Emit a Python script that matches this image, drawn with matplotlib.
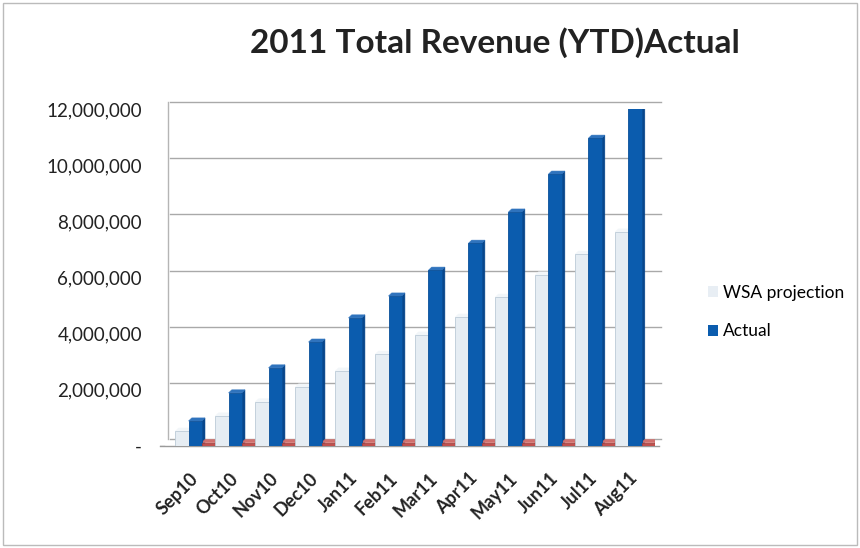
import numpy as np
import matplotlib.pyplot as plt
from matplotlib.patches import Polygon, Rectangle
from matplotlib.transforms import ScaledTranslation
from matplotlib.ticker import FuncFormatter

months = ['Sep10', 'Oct10', 'Nov10', 'Dec10', 'Jan11', 'Feb11',
          'Mar11', 'Apr11', 'May11', 'Jun11', 'Jul11', 'Aug11']
projection = [530000, 1070000, 1570000, 2100000, 2670000, 3270000,
              3950000, 4590000, 5300000, 6090000, 6830000, 7620000]
actual = [890000, 1890000, 2780000, 3700000, 4560000, 5340000,
          6260000, 7220000, 8330000, 9680000, 10960000, 12060000]
variance = [120000, 120000, 120000, 120000, 120000, 120000,
            120000, 120000, 120000, 120000, 120000, 120000]
yticks = [0, 2000000, 4000000, 6000000, 8000000, 10000000, 12000000]

plt.rcParams['font.family'] = ['Lato', 'DejaVu Sans']

fig = plt.figure(figsize=(8.6, 5.48), dpi=100)
ax = fig.add_axes([160 / 860, 102 / 548, 495 / 860, 337 / 548])
ax.set_xlim(-0.88, 11.5)
ax.set_ylim(0, 12000000)

x = np.arange(len(months))
w = 0.33
# depth of the pseudo-3D columns, in data units
dx, dy = 0.08, 110000


def column(ax, xc, h, face, side, top, edge):
    ax.add_patch(Rectangle((xc - w / 2, 0), w, h, facecolor=face,
                           edgecolor=edge, linewidth=0.6, zorder=3))
    ax.add_patch(Polygon([(xc + w / 2, 0), (xc + w / 2 + dx, dy),
                          (xc + w / 2 + dx, h + dy), (xc + w / 2, h)],
                         facecolor=side, edgecolor=side, linewidth=0.4, zorder=2.9))
    ax.add_patch(Polygon([(xc - w / 2, h), (xc - w / 2 + dx, h + dy),
                          (xc + w / 2 + dx, h + dy), (xc + w / 2, h)],
                         facecolor=top, edgecolor=top, linewidth=0.4, zorder=2.9))


# back wall gridlines sit slightly above/behind the column fronts
back = ax.transData + ScaledTranslation(4 / 72, 5 / 72, fig.dpi_scale_trans)
for t in yticks:
    ax.plot([-0.78, 11.5], [t, t], color='#a9a9a9', linewidth=1.0,
            transform=back, clip_on=False, zorder=1)
ax.plot([-0.88, -0.78], [0, 0], color='#a9a9a9', linewidth=1.0, zorder=1)
ax.plot([-0.82, -0.82], [0, 12000000], color='#b5b5b5', linewidth=1.0,
        transform=back, clip_on=False, zorder=1)
ax.plot([-0.88, 11.6], [0, 0], color='#9a9a9a', linewidth=1.0, zorder=2,
        clip_on=False)

for i in x:
    column(ax, i - w, projection[i], '#e6edf3', '#c9d6e0', '#f2f6f9', '#bccbd7')
    column(ax, i, actual[i], '#0b5cae', '#07468c', '#2f73bd', '#0a4f98')
    column(ax, i + w, variance[i], '#c0504d', '#983d3a', '#d0706d', '#a54441')

ax.bar([0], [0], color='#e8eef4', label='WSA projection')
ax.bar([0], [0], color='#0b5cae', label='Actual')

for s in ax.spines.values():
    s.set_visible(False)
ax.set_yticks(yticks)
ax.yaxis.set_major_formatter(FuncFormatter(lambda v, p: '-' if v == 0 else f'{v:,.0f}'))
ax.tick_params(axis='y', length=0, pad=13, labelsize=13.5, colors='#222222')
ax.set_xticks(x - 0.15)
ax.set_xticklabels(months, rotation=45, ha='right', va='top',
                   rotation_mode='anchor', fontweight='bold', fontsize=13)
ax.tick_params(axis='x', length=0, pad=17, colors='#222222')
ax.set_facecolor('none')

fig.text(495 / 860, 1 - 43 / 548, '2011 Total Revenue (YTD)Actual', ha='center',
         va='center', fontsize=24, fontweight='bold', color='#222222')

leg = fig.legend(loc='center left', bbox_to_anchor=(692 / 860, 1 - 312 / 548),
                 frameon=False, fontsize=12.5, handlelength=0.6, handleheight=0.6,
                 handletextpad=0.3, labelspacing=1.3)

fig.patches.append(Rectangle((0.004, 0.006), 0.992, 0.988, transform=fig.transFigure,
                             fill=False, edgecolor='#bbbbbb', linewidth=1.0))

fig.savefig('out.png', dpi=100)
